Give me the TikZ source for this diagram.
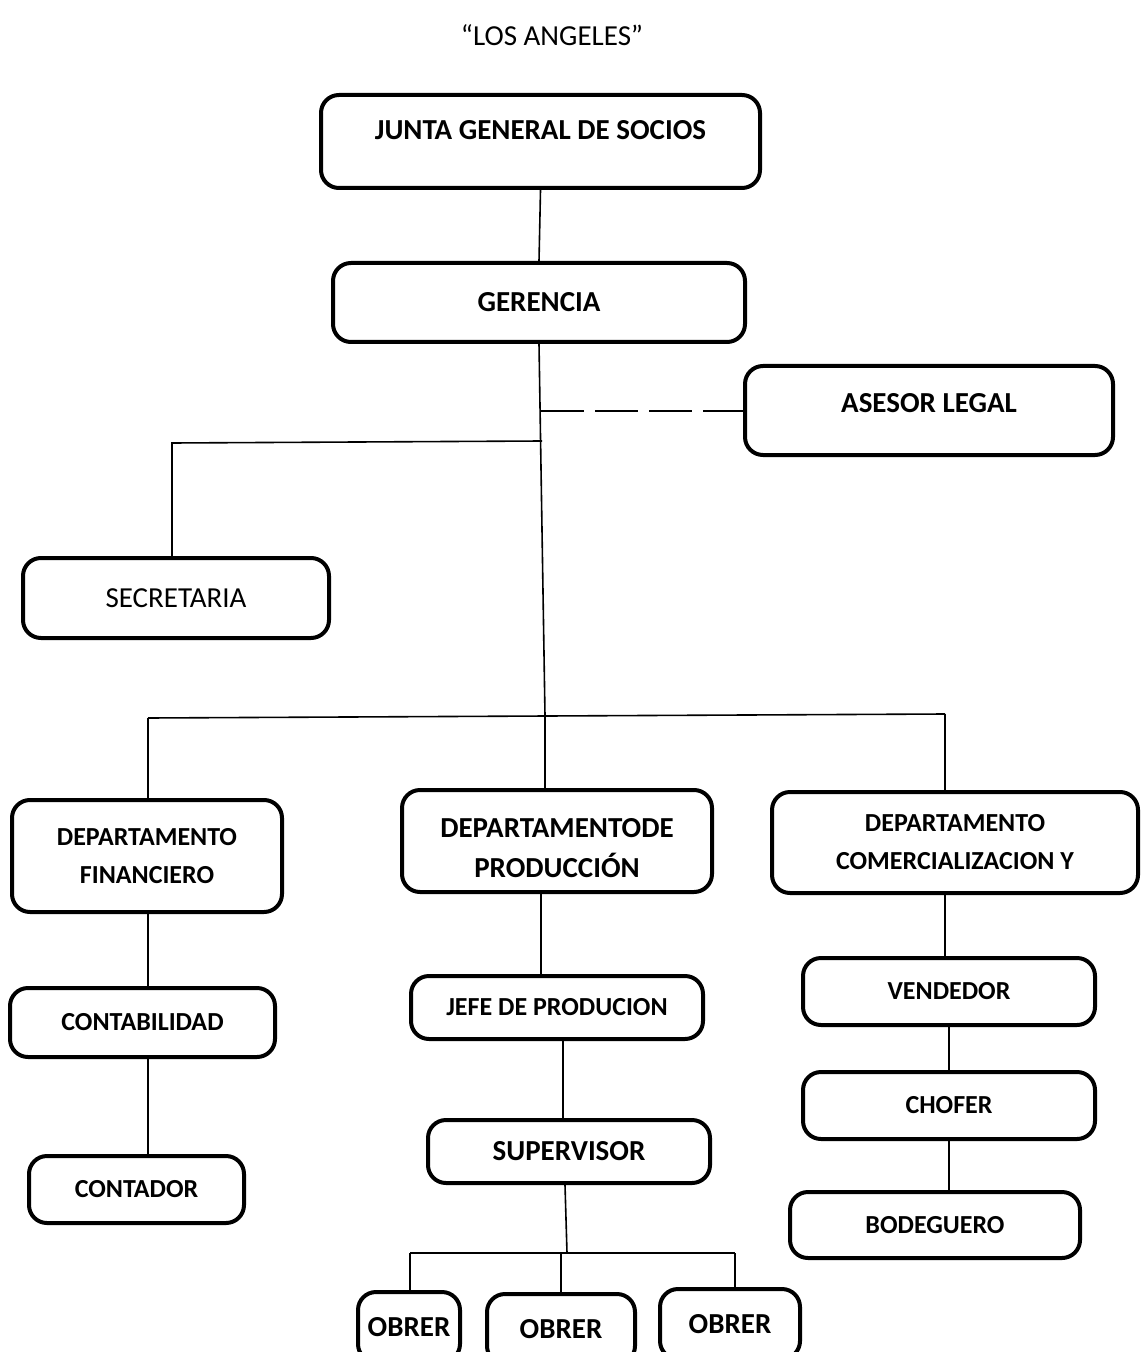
\documentclass[tikz,border=0pt]{standalone}
\usepackage{fontspec}
\setmainfont{Carlito}
\usetikzlibrary{positioning}
\tikzstyle{box} = [rectangle, draw, line width=2pt, rounded corners=9pt,
    align=center, inner sep=0pt, font=\fontsize{14.5}{20}\selectfont\bfseries]
\tikzstyle{sbox} = [box, font=\fontsize{13}{19}\selectfont\bfseries]
\tikzstyle{line} = [line width=0.8pt]

\begin{document}
\begin{tikzpicture}[x=0.5pt,y=-0.5pt,line]
  \clip (0,0) rectangle (1140,1352);
  \fill[white] (0,0) rectangle (1140,1352);
  \node[font=\fontsize{14.5}{17}\selectfont] (title) at (552,35) {“LOS ANGELES”};

  \node[box, minimum width=219.5pt, minimum height=46.5pt, text height=10.5pt, text depth=12.5pt] (junta) at (540.5,141.5) {JUNTA GENERAL DE SOCIOS};
  \node[box, minimum width=206pt, minimum height=39.5pt]   (ger)   at (539,302.5) {GERENCIA};
  \node[box, minimum width=184pt, minimum height=44.5pt, text height=10.5pt, text depth=8.8pt] (asesor) at (929,410.5) {ASESOR LEGAL};
  \node[box, font=\fontsize{14.5}{17}\selectfont, minimum width=153pt, minimum height=40pt] (secre) at (176,598) {SECRETARIA};

  \node[sbox, minimum width=135pt, minimum height=56pt]    (fin)  at (147,856) {DEPARTAMENTO\\FINANCIERO};
  \node[box, minimum width=155pt, minimum height=51pt]     (prod) at (557,841) {\rule{0pt}{16.5pt}DEPARTAMENTODE\\PRODUCCIÓN};
  \node[sbox, minimum width=183pt, minimum height=50.5pt]  (com)  at (955,842.5) {DEPARTAMENTO\\COMERCIALIZACION Y};

  \node[sbox, minimum width=132.5pt, minimum height=34.5pt] (conta) at (142.5,1022.5) {CONTABILIDAD};
  \node[sbox, minimum width=107.5pt, minimum height=33.5pt] (contador) at (136.5,1189.5) {CONTADOR};

  \node[sbox, minimum width=146pt, minimum height=31.5pt]  (jefe) at (557,1007.5) {JEFE DE PRODUCION};
  \node[box, minimum width=141pt, minimum height=31.5pt]   (sup)  at (569,1151.5) {SUPERVISOR};
  \node[box, minimum width=51pt, minimum height=35pt]      (ob1)  at (409,1327) {OBRER};
  \node[box, minimum width=74pt, minimum height=35pt]      (ob2)  at (561,1329) {OBRER};
  \node[box, minimum width=70pt, minimum height=35pt]      (ob3)  at (730,1324) {OBRER};

  \node[sbox, minimum width=146pt, minimum height=33.5pt]  (vend)   at (949,991.5) {VENDEDOR};
  \node[sbox, minimum width=146pt, minimum height=33.5pt]  (chofer) at (949,1105.5) {CHOFER};
  \node[sbox, minimum width=145pt, minimum height=33pt]    (bode)   at (935,1225) {BODEGUERO};

  % junctions
  \coordinate (t1) at (542,441);
  \coordinate (t2) at (545,716);
  \coordinate (s1) at (172,443);
  \coordinate (h1) at (148,718);
  \coordinate (h3) at (945,714);
  \coordinate (d1) at (541,411);
  \coordinate (o0) at (567,1253);
  \coordinate (o1) at (410,1253);
  \coordinate (o3) at (735,1253);

  \draw (junta.south) -- (ger.north);
  \draw (ger.south) -- (t2);
  \draw[dash pattern=on 21.5pt off 5.5pt] (d1) -- (d1 -| asesor.west);
  \draw (t1) -- (s1) -- (s1 |- secre.north);
  \draw (h1) -- (h3);
  \draw (h1) -- (h1 |- fin.north);
  \draw (t2) -- (t2 |- prod.north);
  \draw (h3) -- (h3 |- com.north);

  \draw (h1 |- fin.south) -- (h1 |- conta.north);
  \draw (h1 |- conta.south) -- (h1 |- contador.north);

  \draw ([xshift=-8]prod.south) -- ([xshift=-8]prod.south |- jefe.north);
  \draw ([xshift=3]jefe.south) -- ([xshift=3]jefe.south |- sup.north);
  \draw ([xshift=-2]sup.south) -- (o0);
  \draw (o1) -- (o3);
  \draw (o1) -- (o1 |- ob1.north);
  \draw (o0 -| ob2.north) -- (ob2.north);
  \draw (o3) -- (o3 |- ob3.north);

  \draw (h3 |- com.south) -- (h3 |- vend.north);
  \draw (vend.south) -- (chofer.north);
  \draw (chofer.south) -- (chofer.south |- bode.north);
\end{tikzpicture}
\end{document}
